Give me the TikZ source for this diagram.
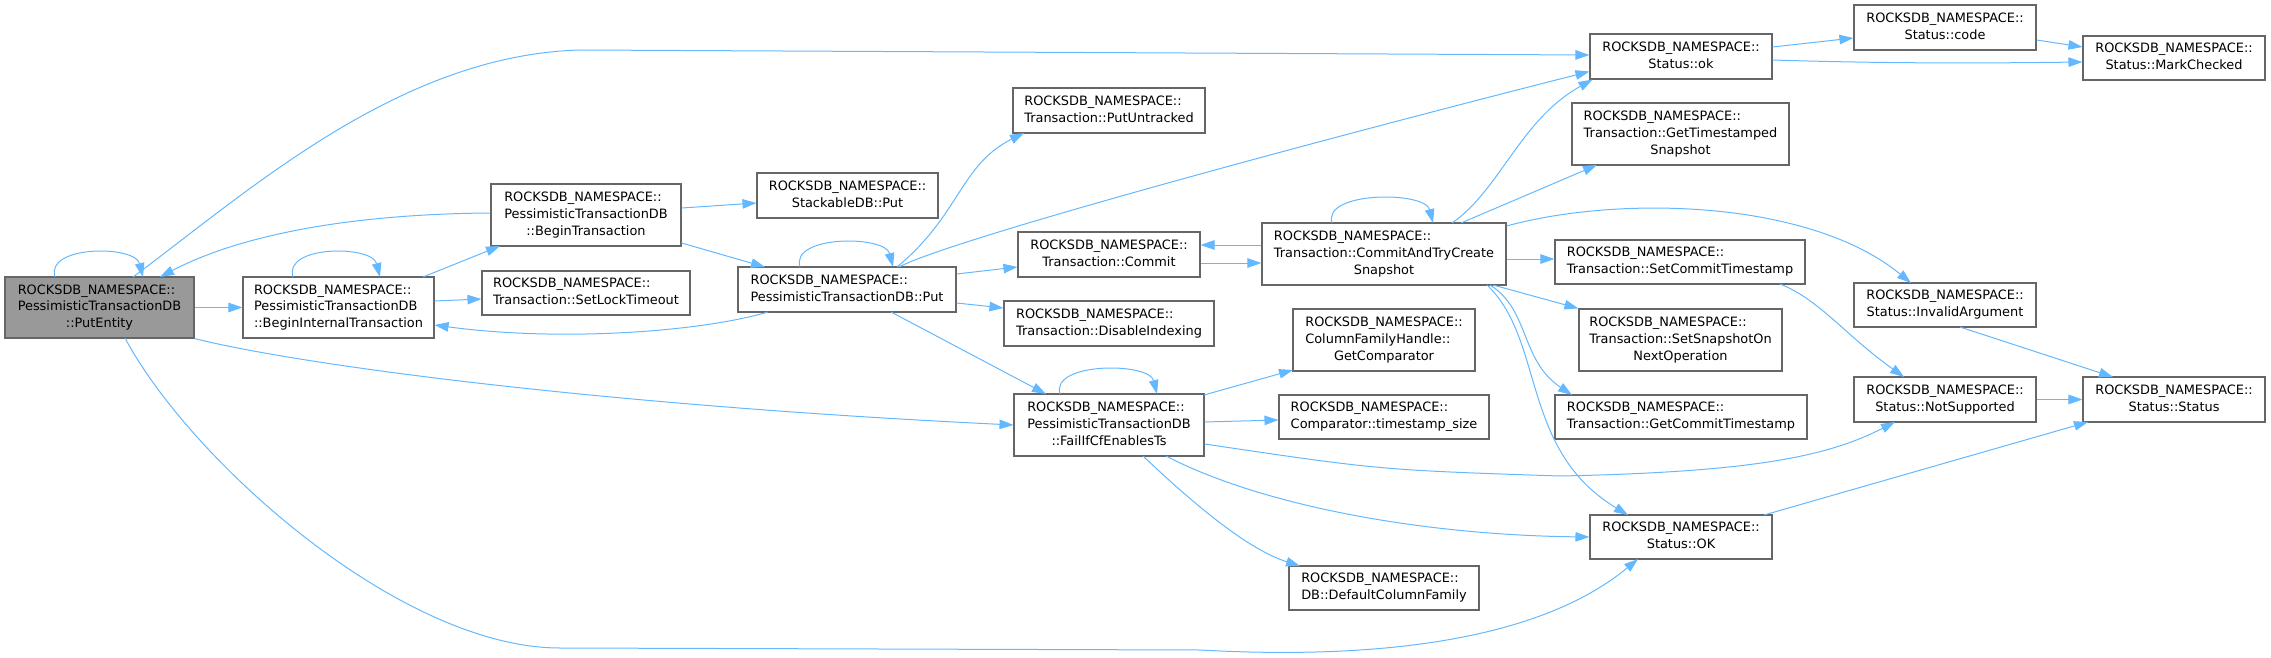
\documentclass[tikz,border=0pt]{standalone}
\usepackage{fontspec}
\setmainfont{DejaVu Sans}
\usetikzlibrary{arrows.meta,calc}
\definecolor{edgec}{HTML}{63B8FF}
\definecolor{bordc}{HTML}{666666}
\definecolor{fillc}{HTML}{999999}
\newcommand\lbl[2]{\begin{tabular}{@{}l@{}}#1\\\multicolumn{1}{@{}c@{}}{#2}\end{tabular}}
\newcommand\rns{ROCKSDB\_NAMESPACE::}
\begin{document}
\begin{tikzpicture}[x=1pt,y=-1pt,
  bx/.style={draw=bordc,line width=1.1pt,fill=white,inner sep=0pt,font=\fontsize{12.9}{16.7}\selectfont},
  sz/.style 2 args={minimum width=#1pt,minimum height=#2pt},
  ed/.style={draw=edgec,line width=1pt,-{Triangle[length=14pt,width=9.5pt]}}]
\useasboundingbox (0,0) rectangle (2271,658);
% nodes
\node[bx,sz={189}{61},fill=fillc] (pe) at (99.5,307.5) {\lbl{\rns\\PessimisticTransactionDB}{::PutEntity}};
\node[bx,sz={191}{61}] (bi) at (338.5,307.5) {\lbl{\rns\\PessimisticTransactionDB}{::BeginInternalTransaction}};
\node[bx,sz={190}{62}] (bt) at (586,215) {\lbl{\rns\\PessimisticTransactionDB}{::BeginTransaction}};
\node[bx,sz={208}{44}] (slt) at (586,293) {\lbl{\rns}{Transaction::SetLockTimeout}};
\node[bx,sz={181}{45}] (sdp) at (847.5,195.5) {\lbl{\rns}{StackableDB::Put}};
\node[bx,sz={218}{45}] (pp) at (847,289.5) {\lbl{\rns}{PessimisticTransactionDB::Put}};
\node[bx,sz={192}{45}] (pu) at (1109,110.5) {\lbl{\rns}{Transaction::PutUntracked}};
\node[bx,sz={182}{45}] (cm) at (1109,254.5) {\lbl{\rns}{Transaction::Commit}};
\node[bx,sz={210}{45}] (di) at (1109,323.5) {\lbl{\rns}{Transaction::DisableIndexing}};
\node[bx,sz={190}{62}] (ff) at (1109,425) {\lbl{\rns\\PessimisticTransactionDB}{::FailIfCfEnablesTs}};
\node[bx,sz={244}{62}] (ct) at (1384,254) {\lbl{\rns\\Transaction::CommitAndTryCreate}{Snapshot}};
\node[bx,sz={182}{62}] (gc) at (1384,340) {\lbl{\rns\\ColumnFamilyHandle::}{GetComparator}};
\node[bx,sz={210}{44}] (ts) at (1384,417) {\lbl{\rns}{Comparator::timestamp\_size}};
\node[bx,sz={190}{44}] (dcf) at (1384,588) {\lbl{\rns}{DB::DefaultColumnFamily}};
\node[bx,sz={182}{45}] (sok) at (1681,56.5) {\lbl{\rns}{Status::ok}};
\node[bx,sz={217}{62}] (gts) at (1680.5,134) {\lbl{\rns\\Transaction::GetTimestamped}{Snapshot}};
\node[bx,sz={250}{44}] (sct) at (1680,262) {\lbl{\rns}{Transaction::SetCommitTimestamp}};
\node[bx,sz={203}{62}] (sso) at (1680.5,340) {\lbl{\rns\\Transaction::SetSnapshotOn}{NextOperation}};
\node[bx,sz={252}{44}] (gct) at (1681,417) {\lbl{\rns}{Transaction::GetCommitTimestamp}};
\node[bx,sz={182}{44}] (sOK) at (1681,537) {\lbl{\rns}{Status::OK}};
\node[bx,sz={182}{45}] (code) at (1945,27.5) {\lbl{\rns}{Status::code}};
\node[bx,sz={182}{44}] (mc) at (2174,58) {\lbl{\rns}{Status::MarkChecked}};
\node[bx,sz={182}{44}] (ia) at (1945,305) {\lbl{\rns}{Status::InvalidArgument}};
\node[bx,sz={182}{45}] (ns) at (1945,399.5) {\lbl{\rns}{Status::NotSupported}};
\node[bx,sz={182}{45}] (ss) at (2174,399.5) {\lbl{\rns}{Status::Status}};
% edges
\draw[ed] ($(pe)+(-44.5,-30.5)$) .. controls +(-10,-32) and +(-8,-32) .. ($(pe)+(43.5,-30.5)$);
\draw[ed] (pe.east) -- (bi.west);
\draw[ed] ($(pe)+(33.5,-30.5)$) .. controls (250,190) and (400,55) .. (580,50) -- ($(sok.west)+(0,-1.5)$);
\draw[ed] ($(bt.west)+(0,-2)$) .. controls (350,214) and (240,235) .. ($(pe)+(60.5,-30.5)$);
\draw[ed] ($(bi)+(-45.5,-30.5)$) .. controls +(-10,-32) and +(-8,-32) .. ($(bi)+(41.5,-30.5)$);
\draw[ed] ($(bi)+(84.5,-30.5)$) -- ($(bt)+(-86,31)$);
\draw[ed] ($(bi.east)+(0,-6.5)$) -- ($(slt.west)+(0,6)$);
\draw[ed] ($(pp)+(-79,22.5)$) .. controls (700,332) and (560,342) .. ($(bi.east)+(0,17.5)$);
\draw[ed] ($(bt.east)+(0,-7)$) -- ($(sdp.west)+(0,7.5)$);
\draw[ed] ($(bt.east)+(0,28)$) -- ($(pp)+(-82,-22.5)$);
\draw[ed] ($(pp)+(-47,-22.5)$) .. controls +(-10,-32) and +(-8,-32) .. ($(pp)+(46,-22.5)$);
\draw[ed] ($(pp)+(50,-22.5)$) .. controls (960,215) and (960,165) .. ($(pu)+(-85,22.5)$);
\draw[ed] ($(pp)+(52,-22.5)$) .. controls (950,240) and (1300,145) .. ($(sok.west)+(0,15)$);
\draw[ed] ($(pp.east)+(0,-15.5)$) -- ($(cm.west)+(0,12.5)$);
\draw[ed] ($(pp.east)+(0,13.5)$) -- ($(di.west)+(0,-15.5)$);
\draw[ed] ($(pp)+(44,22.5)$) -- ($(ff)+(-63,-31)$);
\draw[ed] ($(ff)+(-49,-31)$) .. controls +(-10,-32) and +(-8,-32) .. ($(ff)+(48,-31)$);
\draw[ed] ($(ff)+(95,-30)$) -- ($(gc)+(-91,30)$);
\draw[ed] ($(ff.east)+(0,-3)$) -- ($(ts.west)+(0,3)$);
\draw[ed] ($(ff.east)+(0,19)$) .. controls (1380,470) .. (1560,476) .. controls (1760,472) and (1830,455) .. ($(ns)+(-50,22.5)$);
\draw[ed] ($(ff)+(57,31)$) .. controls (1260,505) and (1420,535) .. (sOK.west);
\draw[ed] ($(ff)+(34,31)$) .. controls (1200,510) and (1250,550) .. ($(dcf)+(-84,-22)$);
\draw[ed] (pe.south east) .. controls (300,365) and (600,405) .. (ff.west);
\draw[ed] ($(pe)+(25.5,30.5)$) .. controls (190,460) and (400,648) .. (560,648) -- (1200,650) .. controls (1380,660) and (1540,640) .. ($(sOK)+(-43,22)$);
\draw[ed] ($(cm.east)+(0,8.5)$) -- ($(ct.west)+(0,9)$);
\draw[ed] ($(ct.west)+(0,-9)$) -- ($(cm.east)+(0,-9.5)$);
\draw[ed] ($(ct)+(-52,-31)$) .. controls +(-10,-32) and +(-8,-32) .. ($(ct)+(49,-31)$);
\draw[ed] ($(ct)+(68,-31)$) .. controls (1500,190) and (1520,120) .. ($(sok.south west)+(3,0)$);
\draw[ed] ($(ct)+(77,-31)$) -- ($(gts)+(-83.5,31)$);
\draw[ed] ($(ct.east)+(0,-28)$) .. controls (1620,195) and (1810,200) .. ($(ia)+(-34,-22)$);
\draw[ed] ($(ct.east)+(0,5)$) -- ($(sct.west)+(0,-3)$);
\draw[ed] ($(ct)+(109,31)$) -- (sso.north west);
\draw[ed] ($(ct)+(106,31)$) .. controls (1530,310) and (1520,360) .. ($(gct)+(-109,-22)$);
\draw[ed] ($(ct)+(103,31)$) .. controls (1545,340) and (1520,450) .. ($(sOK)+(-53,-22)$);
\draw[ed] ($(sct)+(100,22)$) .. controls (1820,300) and (1845,335) .. ($(ns)+(-41,-22.5)$);
\draw[ed] ($(ia)+(15,22)$) -- ($(ss)+(-61,-22.5)$);
\draw[ed] (ns.east) -- (ss.west);
\draw[ed] ($(sOK)+(83,-22)$) -- ($(ss)+(-86,22.5)$);
\draw[ed] ($(sok.east)+(0,-9.5)$) -- ($(code.west)+(0,10.5)$);
\draw[ed] ($(sok.east)+(0,3.5)$) .. controls (1900,64) and (2000,63) .. ($(mc.west)+(0,4)$);
\draw[ed] ($(code.east)+(0,12.5)$) -- ($(mc.west)+(0,-11)$);
\end{tikzpicture}
\end{document}
